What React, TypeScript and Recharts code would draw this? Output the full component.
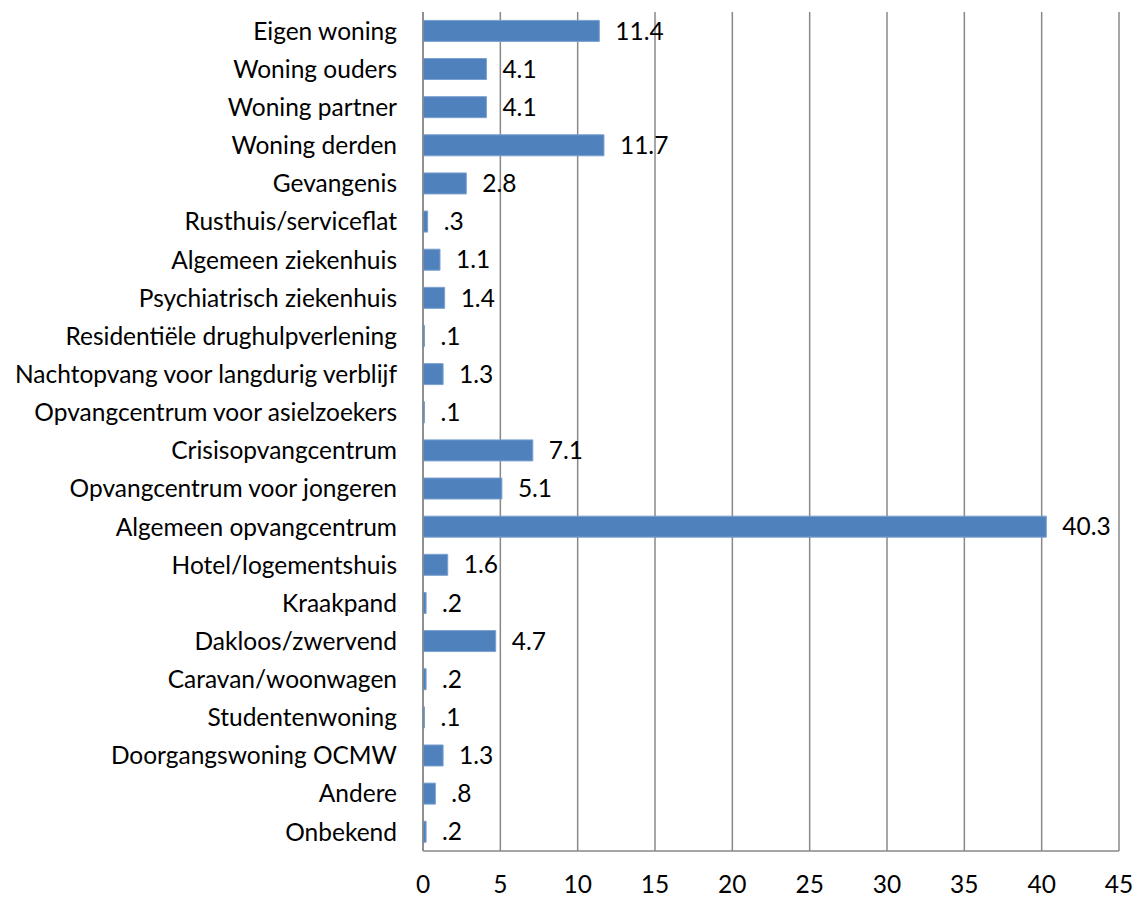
import { Bar, BarChart, CartesianGrid, LabelList, XAxis, YAxis } from 'recharts'

const categories = [
  'Eigen woning',
  'Woning ouders',
  'Woning partner',
  'Woning derden',
  'Gevangenis',
  'Rusthuis/serviceflat',
  'Algemeen ziekenhuis',
  'Psychiatrisch ziekenhuis',
  'Residentiële drughulpverlening',
  'Nachtopvang voor langdurig verblijf',
  'Opvangcentrum voor asielzoekers',
  'Crisisopvangcentrum',
  'Opvangcentrum voor jongeren',
  'Algemeen opvangcentrum',
  'Hotel/logementshuis',
  'Kraakpand',
  'Dakloos/zwervend',
  'Caravan/woonwagen',
  'Studentenwoning',
  'Doorgangswoning OCMW',
  'Andere',
  'Onbekend',
]

const percentages = [
  11.4, 4.1, 4.1, 11.7, 2.8, 0.3, 1.1, 1.4, 0.1, 1.3, 0.1, 7.1, 5.1, 40.3, 1.6, 0.2, 4.7, 0.2, 0.1,
  1.3, 0.8, 0.2,
]

const xTicks = [0, 5, 10, 15, 20, 25, 30, 35, 40, 45]

const data = categories.map((name, i) => ({ name, value: percentages[i] }))

const FONT = 'Lato, "Open Sans", sans-serif'
const GRID = '#888888'
const FS = 24.5

// 0.3 -> ".3", 11.4 -> "11.4"
const fmt = (v: unknown) => {
  const s = Number(v).toFixed(1)
  return s.startsWith('0.') ? s.slice(1) : s
}

export default function App() {
  return (
    <div style={{ position: 'fixed', left: 0, top: 0, background: '#fff' }}>
      <BarChart
        width={1138}
        height={898}
        data={data}
        layout="vertical"
        barCategoryGap="22%"
        margin={{ top: 12, right: 19, left: 0, bottom: 0 }}
      >
        <CartesianGrid horizontal={false} stroke={GRID} strokeWidth={1.5} />
        <XAxis
          type="number"
          domain={[0, 45]}
          ticks={xTicks}
          interval={0}
          height={47}
          axisLine={{ stroke: GRID, strokeWidth: 1.5 }}
          tickLine={false}
          tickMargin={19}
          tick={{ fontSize: FS, fill: '#000', fontFamily: FONT }}
        />
        <YAxis
          type="category"
          dataKey="name"
          width={423}
          interval={0}
          axisLine={{ stroke: GRID, strokeWidth: 1.5 }}
          tickLine={false}
          tickMargin={20}
          tick={{ fontSize: FS, fill: '#000', fontFamily: FONT }}
        />
        <Bar dataKey="value" fill="#4F81BD" stroke="#7BA0D0" strokeWidth={1} isAnimationActive={false}>
          <LabelList
            dataKey="value"
            position="right"
            offset={16}
            formatter={fmt}
            style={{ fontSize: FS, fill: '#000', fontFamily: FONT }}
          />
        </Bar>
      </BarChart>
    </div>
  )
}
